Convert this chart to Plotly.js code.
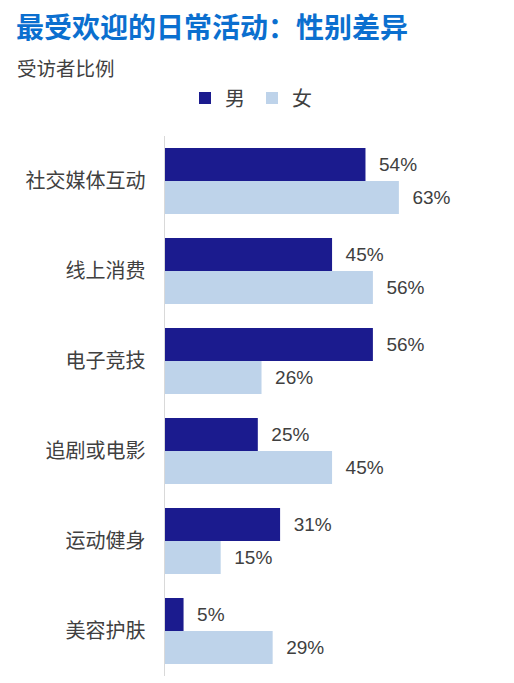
<!DOCTYPE html>
<html>
<head>
<meta charset="utf-8">
<script src="https://cdn.plot.ly/plotly-3.0.1.min.js"></script>
<style>html,body{margin:0;padding:0;background:#fff;}#chart{width:514px;height:683px;}</style>
</head>
<body>
<div id="chart"></div>
<script>
const categories = ['社交媒体互动', '线上消费', '电子竞技', '追剧或电影', '运动健身', '美容护肤'];
const maleValues = [54, 45, 56, 25, 31, 5];
const femaleValues = [63, 56, 26, 45, 15, 29];
const seriesNames = ['男', '女'];
const titleText = '最受欢迎的日常活动：性别差异';
const subtitleText = '受访者比例';

const FONT = 'Arial, "Liberation Sans", "Noto Sans CJK SC", sans-serif';
const CJK = '"Noto Sans CJK SC", sans-serif';
const W = 514, H = 683;
const L = 165, R = 52, T = 136, B = 7;
const pw = W - L - R, ph = H - T - B;

const traces = [
  {type: 'bar', orientation: 'h', name: seriesNames[0], y: categories, x: maleValues,
   marker: {color: '#1b1b8e'}, text: maleValues.map(v => '\u00a0\u00a0' + v + '%'),
   textposition: 'outside', cliponaxis: false,
   textfont: {family: FONT, size: 19, color: '#404040'}, hoverinfo: 'skip'},
  {type: 'bar', orientation: 'h', name: seriesNames[1], y: categories, x: femaleValues,
   marker: {color: '#bed3ea'}, text: femaleValues.map(v => '\u00a0\u00a0' + v + '%'),
   textposition: 'outside', cliponaxis: false,
   textfont: {family: FONT, size: 19, color: '#404040'}, hoverinfo: 'skip'}
];

const layout = {
  width: W, height: H,
  margin: {l: L, r: R, t: T, b: B, pad: 0},
  paper_bgcolor: '#fff', plot_bgcolor: '#fff',
  font: {family: FONT, color: '#404040'},
  barmode: 'group', bargap: 0.267, bargroupgap: 0,
  showlegend: true,
  legend: {orientation: 'h', x: (252 - L) / pw, xanchor: 'center', y: (H - B - 98) / ph, yanchor: 'middle',
           font: {size: 20, color: '#404040', family: CJK}, itemwidth: 30, traceorder: 'normal',
           entrywidth: 22, entrywidthmode: 'pixels'},
  title: {text: '<b>' + titleText + '</b>', xref: 'container', x: 16 / W, xanchor: 'left',
          yref: 'container', y: 1 - 28 / H, yanchor: 'middle',
          font: {size: 28, color: '#0b6fcf', family: CJK}},
  xaxis: {visible: false, range: [0, 80], fixedrange: true},
  yaxis: {autorange: 'reversed', showline: true, linecolor: '#d9d9d9', linewidth: 1.5,
          showgrid: false, zeroline: false, ticks: 'outside', ticklen: 14, tickcolor: 'rgba(0,0,0,0)',
          tickfont: {size: 20, color: '#404040', family: CJK}, fixedrange: true},
  annotations: [
    {text: subtitleText, xref: 'paper', yref: 'paper', x: (15 - L) / pw, xanchor: 'left',
     y: (H - B - 68) / ph, yanchor: 'middle', showarrow: false,
     font: {size: 19.5, color: '#404040', family: CJK}}
  ]
};

Plotly.newPlot('chart', traces, layout, {displayModeBar: false, staticPlot: true});
</script>
</body>
</html>
